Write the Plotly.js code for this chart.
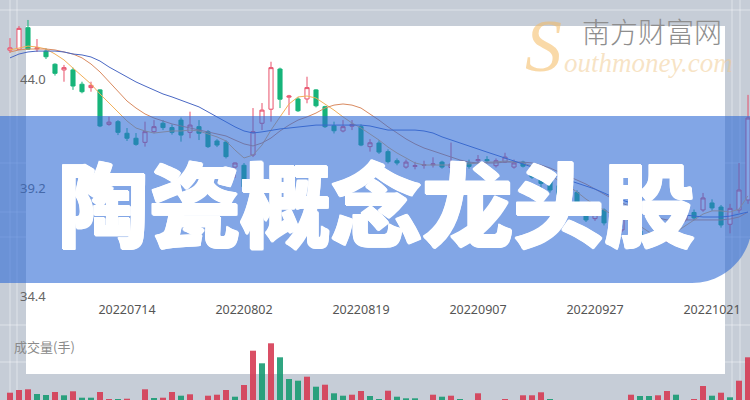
<!DOCTYPE html>
<html><head><meta charset="utf-8">
<script src="https://cdn.plot.ly/plotly-3.0.1.min.js"></script>
<style>html,body{margin:0;padding:0;background:#c6cdd7}#chart{width:750px;height:400px}</style>
</head><body><div id="chart"></div>
<script>
const dates = ['20220627','20220628','20220629','20220630','20220701','20220704','20220705','20220706','20220707','20220708',
'20220711','20220712','20220713','20220714','20220715','20220718','20220719','20220720','20220721','20220722',
'20220725','20220726','20220727','20220728','20220729','20220801','20220802','20220803','20220804','20220805',
'20220808','20220809','20220810','20220811','20220812','20220815','20220816','20220817','20220818','20220819',
'20220822','20220823','20220824','20220825','20220826','20220829','20220830','20220831','20220901','20220902',
'20220905','20220906','20220907','20220908','20220909','20220913','20220914','20220915','20220916','20220919',
'20220920','20220921','20220922','20220923','20220926','20220927','20220928','20220929','20220930','20221010',
'20221011','20221012','20221013','20221014','20221017','20221018','20221019','20221020','20221021','20221024',
'20221025','20221026','20221027'];

const openP = [45.27,45.31,46.26,45.33,45.23,44.65,44.40,44.40,43.77,43.62,
43.52,42.00,42.12,41.61,41.39,41.21,41.68,42.05,41.86,42.19,
41.65,41.90,41.68,41.27,41.22,40.12,40.20,40.65,42.05,42.67,
44.44,43.20,43.12,43.12,43.52,42.78,41.94,41.71,41.92,41.90,
41.02,41.18,40.80,40.40,40.12,40.15,40.20,40.22,40.34,40.10,
40.25,40.30,40.40,40.45,40.18,40.34,40.12,40.34,39.99,39.80,
39.55,39.30,38.90,39.00,38.10,37.85,38.23,37.70,37.35,37.80,
37.30,36.69,37.22,36.85,37.35,37.80,38.12,38.23,38.54,38.36,
37.60,38.23,38.67];
const highP = [45.80,46.33,46.60,45.76,45.35,44.69,44.62,44.50,43.88,43.88,
43.55,42.34,42.19,41.84,41.62,42.12,42.19,42.19,42.00,42.30,
42.56,42.19,41.75,41.35,41.30,40.32,40.30,42.72,42.94,44.76,
44.50,43.30,43.20,44.10,43.55,42.82,42.12,42.19,42.19,42.00,
41.35,41.30,40.90,40.50,40.45,40.35,40.40,40.55,40.40,41.20,
40.40,40.45,40.65,40.60,40.50,40.75,40.45,40.40,40.10,39.90,
39.65,39.40,39.20,39.10,38.20,38.30,38.30,37.80,38.05,37.90,
37.40,37.00,37.30,37.50,37.95,38.20,38.25,38.98,38.70,38.45,
38.50,40.30,43.30];
const lowP = [45.15,45.30,45.28,45.19,44.88,44.15,43.88,43.52,43.37,43.44,
41.88,41.94,41.53,41.27,41.06,41.02,41.61,41.75,41.55,41.24,
41.39,41.31,40.96,41.00,40.50,39.64,39.15,40.56,41.75,42.12,
42.72,42.41,42.55,42.93,42.75,41.84,41.60,41.65,41.75,41.04,
40.80,40.70,40.28,40.20,40.05,40.02,40.05,40.10,40.05,40.00,
40.10,40.05,40.30,40.30,40.10,40.30,40.05,40.10,39.60,38.50,
39.00,38.80,38.70,38.35,37.70,37.75,37.55,37.30,37.25,37.20,
36.75,36.55,36.70,36.80,37.30,37.70,37.80,38.15,38.20,37.45,
37.20,38.10,38.50];
const closeP = [45.37,46.23,45.31,45.37,44.98,44.25,44.50,43.69,43.44,43.72,
41.93,42.10,41.65,41.39,41.12,41.68,41.90,41.86,41.65,41.53,
41.97,41.61,41.02,41.09,40.58,40.30,39.25,41.68,42.63,44.50,
43.11,43.25,42.60,43.62,42.82,41.90,41.72,41.90,42.00,41.09,
41.19,40.78,40.36,40.30,40.34,40.18,40.22,40.26,40.12,40.25,
40.20,40.15,40.45,40.40,40.40,40.56,40.30,40.16,39.68,39.40,
39.11,38.90,39.05,38.45,37.79,38.10,37.66,37.40,37.92,37.30,
36.85,36.85,36.78,37.35,37.80,38.00,37.88,38.76,38.32,37.57,
38.30,39.11,42.28];

const ma5 = [45.28,45.37,45.45,45.41,45.32,45.10,44.84,44.48,44.13,43.78,
43.34,42.94,42.55,42.15,41.84,41.71,41.62,41.67,41.71,41.71,
41.75,41.71,41.58,41.45,41.27,40.87,40.52,40.65,41.09,41.75,
42.33,42.90,43.21,43.25,43.16,42.90,42.63,42.33,42.06,41.84,
41.58,41.31,41.00,40.74,40.52,40.30,40.21,40.21,40.21,40.21,
40.26,40.26,40.30,40.34,40.34,40.39,40.34,40.30,40.17,39.99,
39.77,39.51,39.29,39.02,38.71,38.45,38.23,38.01,37.88,37.74,
37.52,37.26,37.08,37.08,37.26,37.52,37.79,38.05,38.19,38.19,
38.14,38.27,38.85];
const ma10 = [45.19,45.28,45.32,45.32,45.32,45.28,45.19,45.10,44.93,44.66,
44.31,43.87,43.43,43.03,42.72,42.46,42.28,42.15,42.02,41.93,
41.84,41.75,41.67,41.58,41.49,41.31,41.14,41.05,41.18,41.40,
41.71,41.97,42.19,42.33,42.50,42.72,42.85,42.90,42.85,42.72,
42.46,42.19,41.89,41.62,41.36,41.14,40.96,40.83,40.70,40.56,
40.43,40.34,40.30,40.30,40.30,40.34,40.34,40.34,40.30,40.21,
40.08,39.90,39.73,39.55,39.37,39.15,38.93,38.71,38.54,38.36,
38.19,38.01,37.88,37.79,37.79,37.79,37.79,37.79,37.79,37.79,
37.83,37.92,38.14];
const ma20 = [44.93,45.10,45.19,45.23,45.23,45.23,45.19,45.10,45.06,44.97,
44.79,44.53,44.31,44.09,43.87,43.69,43.52,43.34,43.21,43.07,
42.94,42.77,42.55,42.33,42.11,41.89,41.71,41.62,41.67,41.75,
41.80,41.84,41.89,41.93,41.97,41.97,41.97,41.97,41.97,41.97,
41.93,41.84,41.75,41.75,41.75,41.75,41.71,41.62,41.45,41.31,
41.18,41.05,40.92,40.78,40.65,40.52,40.39,40.26,40.12,39.99,
39.86,39.68,39.55,39.42,39.29,39.15,38.98,38.80,38.67,38.54,
38.41,38.27,38.19,38.10,38.05,38.01,37.96,37.92,37.92,37.92,
37.96,38.05,38.14];

const volume = [9.3,12,12.7,8,7,10,6.7,10.7,4.3,4.3,
10,3,3,3.3,2,12.7,4,4.3,10,6.3,
7.7,2,6.3,7.3,12,5.3,17,51.3,38.7,58.7,
44.7,23,21.3,25.3,15.3,17.3,8.7,6.3,7.3,11,
6,3,11.3,5.3,3.7,3.7,2,7.3,5.3,6.3,
3,2,8.7,2,2,3,2,6.7,6.7,9.7,
3,1.5,1.5,1.5,1.5,1.5,1.5,1.5,1.5,7.3,
6,6,6.7,11,7.3,2,3,16,6.3,9.3,
4.7,21.3,44.7];
const volumeDir = [1,1,1,-1,-1,1,-1,1,-1,-1,
1,1,-1,1,-1,1,-1,1,1,-1,
1,-1,1,1,1,-1,1,1,-1,1,
-1,-1,-1,1,-1,1,-1,-1,1,1,
-1,-1,1,-1,-1,-1,-1,1,-1,1,
-1,-1,1,-1,-1,1,-1,1,1,1,
-1,-1,1,-1,-1,1,-1,-1,1,1,
-1,-1,1,1,-1,-1,1,1,-1,1,
-1,1,1];

const xTicks = ['20220714','20220802','20220819','20220907','20220927','20221021'];
const yTicks = [44.0, 39.2, 34.4];
const yTickText = ['44.0','39.2','34.4'];
const title = '陶瓷概念龙头股';
const volLabel = '成交量(手)';

const RED = '#e8506a', GREEN = '#17b47a';
const VRED = '#d63c55', VGREEN = '#1a9c74';

const traces = [
  {type:'candlestick', x:dates, open:openP, high:highP, low:lowP, close:closeP,
   increasing:{line:{color:RED,width:1}, fillcolor:'#ffffff'},
   decreasing:{line:{color:GREEN,width:1}, fillcolor:GREEN},
   whiskerwidth:0, hoverinfo:'skip', xaxis:'x', yaxis:'y'},
  {type:'scatter', mode:'lines', x:dates, y:ma5, line:{color:'#f2b05a',width:1}, hoverinfo:'skip'},
  {type:'scatter', mode:'lines', x:dates, y:ma10, line:{color:'#d98a60',width:1}, hoverinfo:'skip'},
  {type:'scatter', mode:'lines', x:dates, y:ma20, line:{color:'#4a68c4',width:1}, hoverinfo:'skip'},
  {type:'bar', x:dates, y:volume, yaxis:'y2', xaxis:'x',
   marker:{color:volumeDir.map(d => d > 0 ? VRED : VGREEN), line:{width:0}},
   opacity:0.9, hoverinfo:'skip'}
];

const P = (px) => px/750, Q = (py) => 1 - py/400;
const gridLine = 'rgba(255,255,255,0.45)';
const shapes = [];
[10, 163, 212, 237, 325, 362].forEach(py => shapes.push({type:'line', xref:'paper', yref:'paper', x0:0, x1:1, y0:Q(py), y1:Q(py), line:{color:gridLine,width:1}, layer:'below'}));
[10, 17, 732, 740].forEach(px => shapes.push({type:'line', xref:'paper', yref:'paper', x0:P(px), x1:P(px), y0:0, y1:1, line:{color:gridLine,width:1}, layer:'below'}));
shapes.push({type:'rect', xref:'paper', yref:'paper', x0:P(26), x1:P(725), y0:Q(374), y1:Q(26), fillcolor:'#ffffff', line:{width:0}, layer:'below'});
// banner
const bp = `M ${P(-5)},${Q(116)} L ${P(752)},${Q(116)} L ${P(752)},${Q(223)} C ${P(752)},${Q(256)} ${P(725)},${Q(283)} ${P(692)},${Q(283)} L ${P(-5)},${Q(283)} Z`;
shapes.push({type:'path', xref:'paper', yref:'paper', path:bp, fillcolor:'rgba(47,107,213,0.6)', line:{width:0}, layer:'above'});

const heavy = '1px 0 0 #fff, -1px 0 0 #fff, 0 1px 0 #fff, 0 -1px 0 #fff, 1px 1px 0 #fff, -1px -1px 0 #fff';
const annotations = [
  {xref:'paper', yref:'paper', x:P(376), y:Q(200), text:title, showarrow:false, xanchor:'center', yanchor:'middle',
   font:{family:'Noto Sans CJK SC', size:91, color:'#ffffff', weight:900, shadow:heavy}},
  {xref:'paper', yref:'paper', x:P(44), y:Q(346), text:volLabel, showarrow:false, xanchor:'center', yanchor:'middle',
   font:{family:'Noto Sans CJK SC', size:13, color:'#8a8a8a'}},
  {xref:'paper', yref:'paper', x:P(543), y:Q(46), text:'<i>S</i>', showarrow:false, xanchor:'center', yanchor:'middle',
   font:{family:'Liberation Serif', size:74, color:'rgba(244,186,96,0.55)'}},
  {xref:'paper', yref:'paper', x:P(652), y:Q(31), text:'南方财富网', showarrow:false, xanchor:'center', yanchor:'middle', borderpad:0,
   font:{family:'Noto Sans CJK SC', size:28, color:'#8e8e8e', weight:300}},
  {xref:'paper', yref:'paper', x:P(648), y:Q(63), text:'<i>outhmoney.com</i>', showarrow:false, xanchor:'center', yanchor:'middle', borderpad:0,
   font:{family:'Liberation Serif', size:27, color:'rgba(240,200,140,0.5)'}}
];

const layout = {
  width:750, height:400, margin:{l:0,r:0,t:0,b:0,pad:0},
  paper_bgcolor:'#c6cdd7', plot_bgcolor:'rgba(0,0,0,0)', showlegend:false,
  xaxis:{type:'category', range:[-1.11, 82.22], anchor:'free', position:Q(300),
    tickmode:'array', tickvals:xTicks, ticktext:xTicks, ticks:'', showgrid:false, zeroline:false, showline:false,
    rangeslider:{visible:false}, tickfont:{family:'Noto Sans', size:12.5, color:'#555555'}},
  yaxis:{domain:[0,1], range:[29.859, 47.48], tickmode:'array', tickvals:yTicks, ticktext:yTickText,
    ticklabelposition:'inside', ticklabelstandoff:17, ticks:'', showgrid:false, zeroline:false, showline:false,
    tickfont:{family:'Noto Sans', size:13, color:'#666666'}},
  yaxis2:{domain:[0,0.25], range:[2, 102], visible:false, showgrid:false, zeroline:false},
  bargap:0.33, boxgap:0.35,
  shapes:shapes, annotations:annotations
};

Plotly.newPlot('chart', traces, layout, {staticPlot:true, displayModeBar:false});
</script></body></html>
